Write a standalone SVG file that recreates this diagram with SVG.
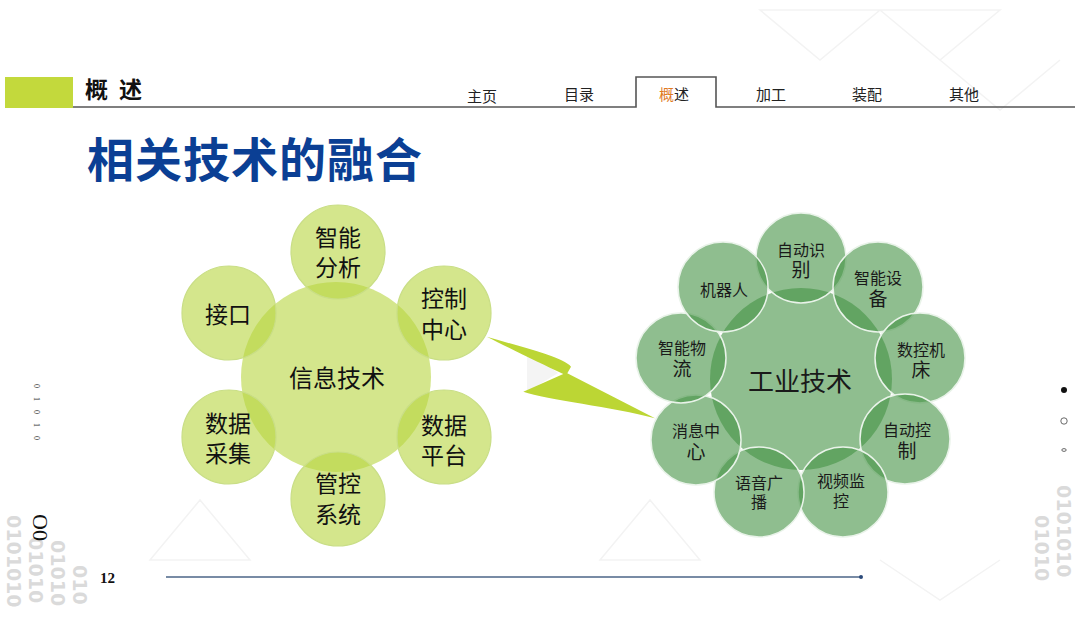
<svg xmlns="http://www.w3.org/2000/svg" width="1080" height="619" viewBox="0 0 1080 619">
<style>
.cjk{font-family:"Noto Sans CJK SC","Noto Sans",sans-serif;}
.tab{font-size:15px;fill:#222;text-anchor:middle;}
.lt{font-size:23px;fill:#111;text-anchor:middle;}
.rt{font-size:16px;fill:#1a1a1a;text-anchor:middle;}
.big{font-size:19px;}
.lsat{fill:rgb(183,213,63);fill-opacity:0.6;stroke:#c9de86;stroke-width:1.2;}
.rsat{fill:rgb(68,147,68);fill-opacity:0.6;stroke:#e9f3e9;stroke-width:1.5;}
.bin{font-family:"DejaVu Sans",sans-serif;font-weight:bold;font-size:19px;fill:#dadada;}
.tri{fill:none;stroke:#f3f3f3;stroke-width:1.5;}
</style>
<rect width="1080" height="619" fill="#ffffff"/>
<g id="background">
<path class="tri" d="M760,10 L820,60 L880,10 Z M880,10 L940,60 L1000,10 Z M820,60 L880,10 M940,60 L1000,110 L1060,60"/>
<path class="tri" d="M150,560 L200,500 L250,560 Z M600,560 L650,500 L700,560 Z M880,560 L940,600 L1000,560"/>
<polygon points="527,352 558,373 527,392" fill="#f4f4f4"/>
<text class="bin" transform="translate(7,515) rotate(90)">0101010</text>
<text class="bin" transform="translate(29,537) rotate(90)">01010</text>
<text class="bin" transform="translate(51,540) rotate(90)">01010</text>
<text class="bin" transform="translate(73,565) rotate(90)">010</text>
<text class="bin" transform="translate(1035,515) rotate(90)">01010</text>
<text class="bin" transform="translate(1057,485) rotate(90)">0101010</text>
</g>
<g id="header">
<rect x="5" y="77" width="68" height="31" fill="#c3d93c"/>
<text y="98" class="cjk" font-size="23" font-weight="bold" fill="#111"><tspan x="85">概</tspan><tspan x="119">述</tspan></text>
<path d="M73,107 L636,107 L636,77 L716,77 L716,107 L1075,107" fill="none" stroke="#555" stroke-width="1.6"/>
<text x="482" y="102" class="cjk tab">主页</text>
<text x="579" y="100" class="cjk tab">目录</text>
<text x="674" y="100" class="cjk tab"><tspan fill="#e07a1f">概</tspan>述</text>
<text x="771" y="100" class="cjk tab">加工</text>
<text x="867" y="100" class="cjk tab">装配</text>
<text x="964" y="100" class="cjk tab">其他</text>
<text x="87" y="177" class="cjk" font-size="47" font-weight="bold" fill="#0b3f94" letter-spacing="1">相关技术的融合</text>
</g>
<g id="connectors">
<path d="M486.7,336.7 C520,346.7 563.3,356.7 571,366.7 L567.3,373.3 L655,418.3 C613.3,406.7 546.7,400 523.3,391.7 L563.3,374 C540,363.3 506.7,346.7 486.7,336.7 Z" fill="#bcd634"/>
</g>
<g id="left-cluster">
<g id="n-info"><circle cx="336" cy="377" r="95" fill="#d4e68c"/><text x="337" y="387" class="cjk lt" style="font-size:24px">信息技术</text></g>
<g id="n-zhinengfenxi"><circle class="lsat" cx="338" cy="252" r="47"/><text class="cjk lt"><tspan x="338" y="246">智能</tspan><tspan x="338" y="276">分析</tspan></text></g>
<g id="n-kongzhi"><circle class="lsat" cx="444" cy="313" r="47"/><text class="cjk lt"><tspan x="444" y="307">控制</tspan><tspan x="444" y="338">中心</tspan></text></g>
<g id="n-shujupingtai"><circle class="lsat" cx="444" cy="437" r="47"/><text class="cjk lt"><tspan x="444" y="434">数据</tspan><tspan x="444" y="464">平台</tspan></text></g>
<g id="n-guankong"><circle class="lsat" cx="338" cy="499" r="47"/><text class="cjk lt"><tspan x="338" y="492">管控</tspan><tspan x="338" y="523">系统</tspan></text></g>
<g id="n-shujucaiji"><circle class="lsat" cx="229" cy="437" r="47"/><text class="cjk lt"><tspan x="228" y="432">数据</tspan><tspan x="228" y="462">采集</tspan></text></g>
<g id="n-jiekou"><circle class="lsat" cx="229" cy="313" r="47"/><text x="228" y="323" class="cjk lt">接口</text></g>
</g>
<g id="right-cluster">
<g id="n-industry"><circle cx="801" cy="379" r="91" fill="rgb(143,190,143)"/><text x="800" y="391" class="cjk rt" style="font-size:26px">工业技术</text></g>
<g id="n-zidongshibie"><circle class="rsat" cx="801" cy="258" r="45"/><text class="cjk rt"><tspan x="801" y="256">自动识</tspan><tspan class="big" x="801" y="277">别</tspan></text></g>
<g id="n-zhinengshebei"><circle class="rsat" cx="878" cy="287" r="45"/><text class="cjk rt"><tspan x="878" y="284">智能设</tspan><tspan class="big" x="878" y="306">备</tspan></text></g>
<g id="n-shukong"><circle class="rsat" cx="920" cy="358" r="45"/><text class="cjk rt"><tspan x="921" y="356">数控机</tspan><tspan class="big" x="921" y="377">床</tspan></text></g>
<g id="n-zidongkongzhi"><circle class="rsat" cx="905" cy="439" r="45"/><text class="cjk rt"><tspan x="907" y="436">自动控</tspan><tspan class="big" x="907" y="458">制</tspan></text></g>
<g id="n-shipin"><circle class="rsat" cx="843" cy="492" r="45"/><text class="cjk rt"><tspan x="841" y="487">视频监</tspan><tspan x="841" y="507">控</tspan></text></g>
<g id="n-yuyin"><circle class="rsat" cx="759" cy="492" r="45"/><text class="cjk rt"><tspan x="759" y="489">语音广</tspan><tspan x="759" y="508">播</tspan></text></g>
<g id="n-xiaoxi"><circle class="rsat" cx="696" cy="440" r="45"/><text class="cjk rt"><tspan x="696" y="437">消息中</tspan><tspan class="big" x="696" y="459">心</tspan></text></g>
<g id="n-wuliu"><circle class="rsat" cx="681" cy="358" r="45"/><text class="cjk rt"><tspan x="682" y="354">智能物</tspan><tspan class="big" x="682" y="376">流</tspan></text></g>
<g id="n-jiqiren"><circle class="rsat" cx="723" cy="287" r="45"/><text x="724" y="296" class="cjk rt">机器人</text></g>
</g>
<g id="decor">
<text transform="translate(34,384) rotate(90)" font-family="Liberation Serif,serif" font-size="8" fill="#333" letter-spacing="9">01010</text>
<text transform="translate(33,514) rotate(90)" font-family="Liberation Serif,serif" font-size="22" fill="#111">O0</text>
<circle cx="1064" cy="390" r="3" fill="#111"/>
<circle cx="1064" cy="421" r="3.2" fill="none" stroke="#444" stroke-width="0.8"/>
<ellipse cx="1064" cy="450" rx="2.2" ry="1.4" fill="none" stroke="#444" stroke-width="0.8"/>
<text x="100" y="583" font-family="Liberation Serif,serif" font-weight="bold" font-size="15" fill="#111">12</text>
<line x1="166" y1="577" x2="861" y2="577" stroke="#4b6487" stroke-width="1.5"/>
<circle cx="861" cy="577" r="2" fill="#2b4a7a"/>
</g>
</svg>
